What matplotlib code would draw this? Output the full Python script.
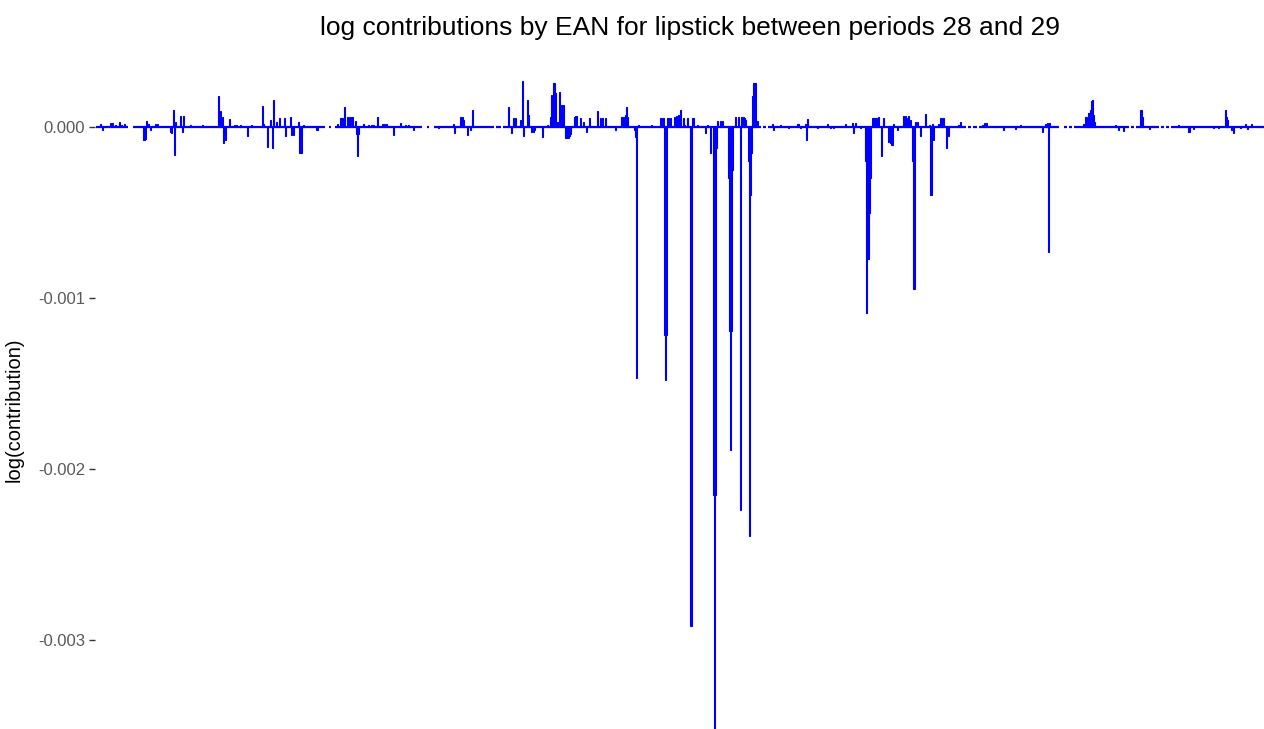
import matplotlib
matplotlib.use("Agg")
import matplotlib.pyplot as plt
import numpy as np

plt.rcParams['font.family'] = ['Liberation Sans', 'DejaVu Sans']

N_EAN = 1169

# EAN index -> log contribution (x1e-3), everything else is 0
spike_idx = [
    4, 6, 14, 16, 19, 23, 25, 28,
    47, 48, 49, 50, 52, 54, 59, 61,
    74, 75, 77, 78, 79, 84, 86, 87, 94, 106,
    122, 124, 126, 127, 129, 133, 138, 140, 144, 151, 155,
    166, 167, 171, 174, 176, 177, 180, 183, 188, 189,
    194, 195, 197, 202, 203, 204, 205, 207, 214, 220, 221,
    241, 244, 245, 246, 248, 251, 253, 255, 256, 259, 260, 261, 262, 267,
    272, 275, 277, 281, 286, 288, 290, 297, 304, 309, 312, 317,
    342, 357, 358, 364, 366, 367, 371, 374, 376,
    412, 415, 417, 419, 424, 426, 427, 431, 432, 435, 437, 438, 446, 451, 454,
    455, 457, 458, 459, 461, 463, 465, 467, 469, 470, 471, 472, 473, 474,
    478, 479, 480, 484, 487, 490, 493, 501, 504, 506, 509, 519,
    525, 527, 529, 530, 531, 538, 539, 540, 542, 555,
    564, 566, 567, 568, 569, 570, 571, 572, 574, 578, 580, 582, 584, 587, 588, 591,
    594, 595, 596, 597, 601, 609, 611, 614, 617, 618, 619, 620, 621, 624, 626,
    632, 633, 634, 635, 636, 639, 642, 644, 645, 647, 648, 649,
    652, 653, 654, 655, 656, 657, 658, 659, 661,
    676, 677, 684, 692, 701, 702, 704, 709, 710, 711, 721, 731, 734, 737,
    749, 756, 757, 759, 764,
    769, 770, 771, 772, 773, 774, 776, 777, 778, 779, 780, 782, 785, 787, 792,
    794, 795, 796, 797, 801, 807, 809, 811, 812, 814, 816, 817, 818, 819, 821,
    824, 829, 833, 834, 835, 836, 837, 842, 844, 846, 847, 850, 852, 862, 864,
    886, 888, 890, 907, 909, 912, 919, 924, 929, 937, 946, 949, 951, 952, 953,
    987, 989, 991, 992, 993, 994, 995, 996, 997, 998,
    1007, 1019, 1022, 1027, 1044, 1045, 1046, 1053, 1057,
    1082, 1086, 1092, 1093, 1097, 1117, 1122, 1129, 1130, 1131, 1135, 1137,
    1144, 1149, 1151, 1155, 1161, 1164,
]
spike_val = [
    0.016, -0.018, 0.025, 0.025, 0.012, 0.031, 0.012, 0.016,
    -0.076, -0.076, -0.070, 0.035, 0.020, -0.020, 0.016, 0.016,
    -0.030, -0.037, 0.100, -0.164, 0.031, 0.066, -0.027, 0.066, 0.012, 0.012,
    0.181, 0.095, 0.060, -0.095, -0.076, 0.045, 0.012, 0.012, 0.012, -0.052, 0.012,
    0.123, 0.020, -0.115, 0.040, -0.120, 0.158, 0.030, 0.055, 0.050, -0.052,
    0.060, -0.047, -0.047, 0.031, -0.154, -0.154, -0.154, 0.012, 0.006, -0.018, -0.018,
    0.020, 0.055, 0.055, 0.055, 0.115, 0.057, 0.057, 0.057, 0.057, 0.035, -0.040, -0.170, -0.040, 0.020,
    0.012, 0.012, 0.012, 0.057, 0.020, 0.020, 0.020, -0.047, 0.025, 0.012, 0.012, -0.018,
    -0.008, 0.020, -0.037, 0.057, 0.057, 0.040, -0.047, -0.018, 0.100,
    0.115, -0.037, 0.050, 0.050, 0.040, 0.271, -0.055, 0.158, 0.070, -0.027, -0.027, -0.020, -0.060, 0.012, 0.060,
    0.187, 0.255, 0.255, 0.200, 0.030, 0.206, 0.130, 0.130, -0.062, -0.062, -0.062, -0.062, -0.050, -0.040,
    0.060, 0.066, 0.066, 0.050, 0.030, -0.027, 0.050, 0.093, 0.050, 0.050, 0.050, -0.018,
    0.060, 0.060, 0.070, 0.115, 0.060, -0.020, -0.060, -1.468, 0.012, 0.012,
    0.050, 0.050, 0.050, -1.216, -1.480, -1.216, 0.050, 0.050, 0.050, 0.060, 0.066, 0.070, 0.100, 0.050, 0.012, 0.050,
    -2.918, -2.918, 0.050, 0.050, 0.012, -0.037, 0.012, -0.150, -2.150, -3.520, -2.150, -0.120, 0.035, 0.035, 0.035,
    -0.300, -1.190, -1.890, -1.190, -0.250, 0.060, 0.060, -2.240, 0.060, 0.060, 0.050, 0.040,
    -0.200, -2.390, -0.400, -0.150, 0.180, 0.255, 0.255, 0.255, 0.035,
    0.016, -0.020, 0.012, -0.006, 0.020, 0.020, -0.008, 0.020, -0.076, 0.045, -0.008, 0.016, -0.008, -0.008, 0.016,
    0.025, -0.037, 0.025, -0.008, -0.200, -1.090, -0.770, -0.770, -0.500, -0.300, 0.055, 0.055, 0.055, 0.055, 0.055,
    0.060, -0.170, 0.055, -0.090, -0.095, -0.105, -0.105, 0.016, -0.018, 0.063, 0.063, 0.050, 0.063, 0.040, -0.200,
    -0.950, -0.950, 0.031, 0.031, -0.052, 0.074, 0.012, -0.400, -0.400, 0.016, -0.076, 0.016, 0.050, 0.050, 0.050,
    -0.120, -0.052, 0.012, 0.031, 0.012, 0.025, 0.025, -0.018, 0.008, 0.008, -0.010, 0.012, 0.008, 0.008, -0.027,
    0.016, 0.025, -0.730, 0.025, 0.020, 0.060, 0.060, 0.080, 0.080, 0.100,
    0.152, 0.158, 0.070, 0.030, 0.003, 0.012, -0.018, -0.023, 0.100, 0.100, 0.060, -0.012, 0.008,
    0.012, 0.005, -0.030, -0.030, -0.012, -0.008, -0.008, 0.100, 0.060, 0.040, -0.018, -0.035,
    -0.008, 0.016, -0.012, 0.016, 0.008, 0.008,
]

# EANs with no value in either period (breaks in the zero line)
missing_idx = [33, 34, 35, 36, 230, 231, 232, 236, 237, 238, 327, 328, 329, 330,
               334, 335, 336, 337, 399, 406, 666, 671, 871, 876, 882,
               964, 965, 966, 967, 972, 977, 1034, 1039, 1064, 1069, 1074]

# the two spike lists were typed separately, keep them the same length
n = min(len(spike_idx), len(spike_val))
spike_idx = spike_idx[:n]
spike_val = spike_val[:n]

contrib = np.zeros(N_EAN)
contrib[np.array(spike_idx)] = np.array(spike_val) * 1e-3
contrib[np.array(missing_idx)] = np.nan
ean = np.arange(N_EAN)

W, H = 1264, 729
fig = plt.figure(figsize=(W / 100, H / 100), dpi=100)
ax = fig.add_axes([95 / W, 0, 1 - 95 / W, (H - 58) / H])

base = np.where(np.isnan(contrib), np.nan, 0.0)
ax.plot(ean, base, color='blue', lw=1.6, solid_capstyle='butt')
nz = np.nan_to_num(contrib) != 0
ax.bar(ean[nz], contrib[nz], width=1.0, color='blue', edgecolor='blue', linewidth=0.8)

ax.set_xlim(-1, N_EAN - 1)
ax.set_ylim(-3.52e-3, (127 - 58) / 171 * 1e-3)
ax.set_yticks([0, -0.001, -0.002, -0.003])
ax.set_yticklabels(['0.000', '-0.001', '-0.002', '-0.003'])
ax.set_xticks([])
for s in ax.spines.values():
    s.set_visible(False)
ax.tick_params(axis='y', length=4, width=1, color='#333333', labelcolor='#5a5a5a',
               labelsize=12, pad=3)
ax.set_ylabel('log(contribution)', fontsize=14.5, color='black')
ax.yaxis.set_label_coords((24 - 95) / (W - 95), (H - 410) / (H - 58))

fig.text(690 / W, 1 - 28 / H, 'log contributions by EAN for lipstick between periods 28 and 29',
         ha='center', va='center', fontsize=19, color='black')

fig.savefig('out.png', dpi=100)
